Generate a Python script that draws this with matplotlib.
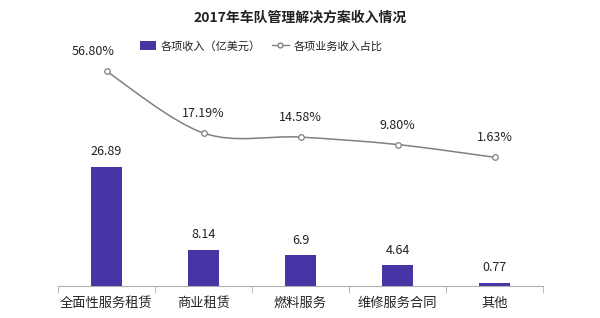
import numpy as np
import matplotlib.pyplot as plt
from matplotlib.path import Path
from matplotlib.patches import PathPatch
from matplotlib.lines import Line2D
from matplotlib.patches import Patch

plt.rcParams['font.family'] = ['Noto Sans CJK SC', 'DejaVu Sans']

# data
categories = ['全面性服务租赁', '商业租赁', '燃料服务', '维修服务合同', '其他']
revenue = [26.89, 8.14, 6.9, 4.64, 0.77]          # 亿美元
share = [56.80, 17.19, 14.58, 9.80, 1.63]         # %
share_labels = ['56.80%', '17.19%', '14.58%', '9.80%', '1.63%']
revenue_labels = ['26.89', '8.14', '6.9', '4.64', '0.77']

bar_color = '#4535a5'
line_color = '#808080'
text_color = '#222222'

fig = plt.figure(figsize=(6, 3.18), dpi=100)
ax = fig.add_axes([0.0967, 0.1006, 0.8083, 0.7104])
x = np.arange(len(categories))

ax.bar(x, revenue, width=0.31, color=bar_color, zorder=2)
for xi, v, lab in zip(x, revenue, revenue_labels):
    ax.annotate(lab, (xi, v), xytext=(0, 11), textcoords='offset points',
                ha='center', va='center', fontsize=9, color=text_color)

ax.set_xlim(-0.5, len(categories) - 0.5)
ax.set_ylim(0, 51)
ax.set_xticks(x)
ax.set_xticklabels(categories, fontsize=9.5, color=text_color)
ax.set_xticks(np.arange(-0.5, len(categories)), minor=True)
ax.tick_params(axis='x', which='major', length=0, pad=8)
ax.tick_params(axis='x', which='minor', length=5, color='#b0b0b0', direction='out')
ax.set_yticks([])
for s in ['top', 'right', 'left']:
    ax.spines[s].set_visible(False)
ax.spines['bottom'].set_color('#b0b0b0')

# secondary axis for share line
ax2 = ax.twinx()
ax2.set_ylim(-81, 64)
ax2.set_yticks([])
for s in ax2.spines.values():
    s.set_visible(False)

# smoothed line (Catmull-Rom -> cubic Bezier) through the data points
pts = np.column_stack([x, share]).astype(float)
verts = [tuple(pts[0])]
codes = [Path.MOVETO]
n = len(pts)
for i in range(n - 1):
    p0 = pts[i - 1] if i > 0 else pts[i]
    p1 = pts[i]
    p2 = pts[i + 1]
    p3 = pts[i + 2] if i + 2 < n else pts[i + 1]
    c1 = p1 + (p2 - p0) / 6
    c2 = p2 - (p3 - p1) / 6
    verts += [tuple(c1), tuple(c2), tuple(p2)]
    codes += [Path.CURVE4] * 3
ax2.add_patch(PathPatch(Path(verts, codes), facecolor='none',
                        edgecolor=line_color, lw=1.1, zorder=3))
ax2.plot(x, share, linestyle='none', marker='o', markersize=4,
         markerfacecolor='white', markeredgecolor=line_color,
         markeredgewidth=0.9, zorder=4)
offsets = [(-10, 14), (0, 14), (0, 14), (0, 14), (0, 14)]
for xi, v, lab, off in zip(x, share, share_labels, offsets):
    ax2.annotate(lab, (xi, v), xytext=off, textcoords='offset points',
                 ha='center', va='center', fontsize=9, color=text_color)

fig.text(0.5, 0.943, '2017年车队管理解决方案收入情况', ha='center', va='center',
         fontsize=10, fontweight='bold', color=text_color)

handles = [Patch(facecolor=bar_color, edgecolor='none'),
           Line2D([], [], color=line_color, lw=1, marker='o', markersize=3.5,
                  markerfacecolor='white', markeredgecolor=line_color)]
fig.legend(handles, ['各项收入（亿美元）', '各项业务收入占比'], loc='center',
           bbox_to_anchor=(0.435, 0.855), ncol=2, frameon=False, fontsize=8,
           handlelength=1.5, handleheight=0.8, handletextpad=0.4,
           columnspacing=1.0, labelcolor=text_color)

fig.savefig('out.png', dpi=100)
